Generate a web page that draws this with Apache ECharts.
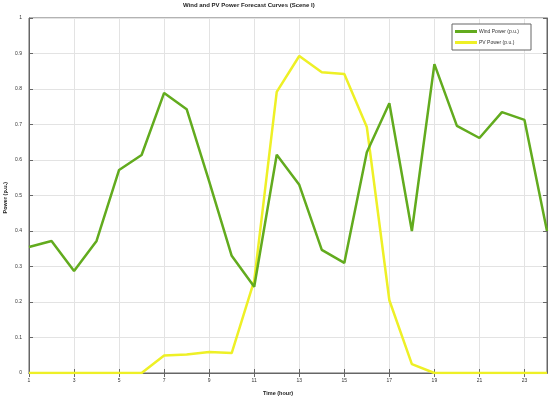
<!DOCTYPE html>
<html><head><meta charset="utf-8">
<script src="https://cdn.jsdelivr.net/npm/echarts@6/dist/echarts.min.js"></script>
<style>html,body{margin:0;padding:0;background:#fff}#c{width:550px;height:401px}</style>
</head><body><div id="c"></div>
<script>
const hours = ['1','2','3','4','5','6','7','8','9','10','11','12','13','14','15','16','17','18','19','20','21','22','23','24'];
const windPower = [0.355,0.372,0.287,0.372,0.572,0.614,0.789,0.743,0.54,0.33,0.243,0.615,0.53,0.347,0.31,0.622,0.76,0.40,0.87,0.696,0.662,0.735,0.713,0.40];
const pvPower = [0,0,0,0,0,0,0.049,0.052,0.059,0.056,0.26,0.792,0.893,0.847,0.842,0.693,0.205,0.025,0,0,0,0,0,0];
const yTicks = [0,0.1,0.2,0.3,0.4,0.5,0.6,0.7,0.8,0.9,1];

const FONT = 'Liberation Sans, Arial, sans-serif';
const chart = echarts.init(document.getElementById('c'), null, {renderer:'canvas'});
const axisColor = '#666';
chart.setOption({
  animation:false,
  backgroundColor:'#fff',
  grid:{left:29,right:3,top:18,bottom:28,show:true,borderColor:axisColor,borderWidth:1,containLabel:false},
  graphic:[
    {type:'text',left:183,top:2,style:{text:'Wind and PV Power Forecast Curves (Scene I)',font:'bold 6px '+FONT,fill:'#222'}},
    {type:'text',left:263,top:390,style:{text:'Time (hour)',font:'bold 5.5px '+FONT,fill:'#222'}},
    {type:'text',left:2,top:182,rotation:Math.PI/2,style:{text:'Power (p.u.)',font:'bold 5.5px '+FONT,fill:'#222'}}
  ],
  legend:{
    orient:'vertical',left:452,top:24,
    padding:[5,12,5,3],itemGap:6,
    borderColor:'#666',borderWidth:1,backgroundColor:'#fff',
    icon:'rect',itemWidth:22,itemHeight:3,
    textStyle:{fontSize:5,fontFamily:FONT,color:'#333',padding:[0,0,0,-3]},
    data:['Wind Power (p.u.)','PV Power (p.u.)']
  },
  xAxis:[{
    type:'category',data:hours,boundaryGap:false,
    axisLine:{lineStyle:{color:axisColor,width:1}},
    axisTick:{inside:true,length:4,interval:1,lineStyle:{color:axisColor}},
    axisLabel:{interval:1,fontSize:5,fontFamily:FONT,color:'#333',margin:5},
    splitLine:{show:true,interval:1,lineStyle:{color:'#e3e3e3',width:1}}
  },{
    type:'category',data:hours,boundaryGap:false,position:'top',
    axisLine:{lineStyle:{color:axisColor}},
    axisTick:{inside:true,length:4,interval:1,lineStyle:{color:axisColor}},
    axisLabel:{show:false},splitLine:{show:false}
  }],
  yAxis:[{
    type:'value',min:0,max:1,interval:0.1,
    axisLine:{show:true,lineStyle:{color:axisColor}},
    axisTick:{show:true,inside:true,length:4,lineStyle:{color:axisColor}},
    axisLabel:{fontSize:5,fontFamily:FONT,color:'#333',margin:7,formatter:function(v){return String(+v.toFixed(1));}},
    splitLine:{show:true,lineStyle:{color:'#e3e3e3',width:1}}
  },{
    type:'value',min:0,max:1,interval:0.1,position:'right',
    axisLine:{show:true,lineStyle:{color:axisColor}},
    axisTick:{show:true,inside:true,length:4,lineStyle:{color:axisColor}},
    axisLabel:{show:false},splitLine:{show:false}
  }],
  series:[{
    name:'Wind Power (p.u.)',type:'line',data:windPower,showSymbol:false,symbol:'none',
    lineStyle:{color:'#62ab1e',width:2.5},itemStyle:{color:'#62ab1e'},z:3
  },{
    name:'PV Power (p.u.)',type:'line',data:pvPower,showSymbol:false,symbol:'none',
    lineStyle:{color:'#eef026',width:2.5},itemStyle:{color:'#eef026'},z:2
  }]
});
</script></body></html>
